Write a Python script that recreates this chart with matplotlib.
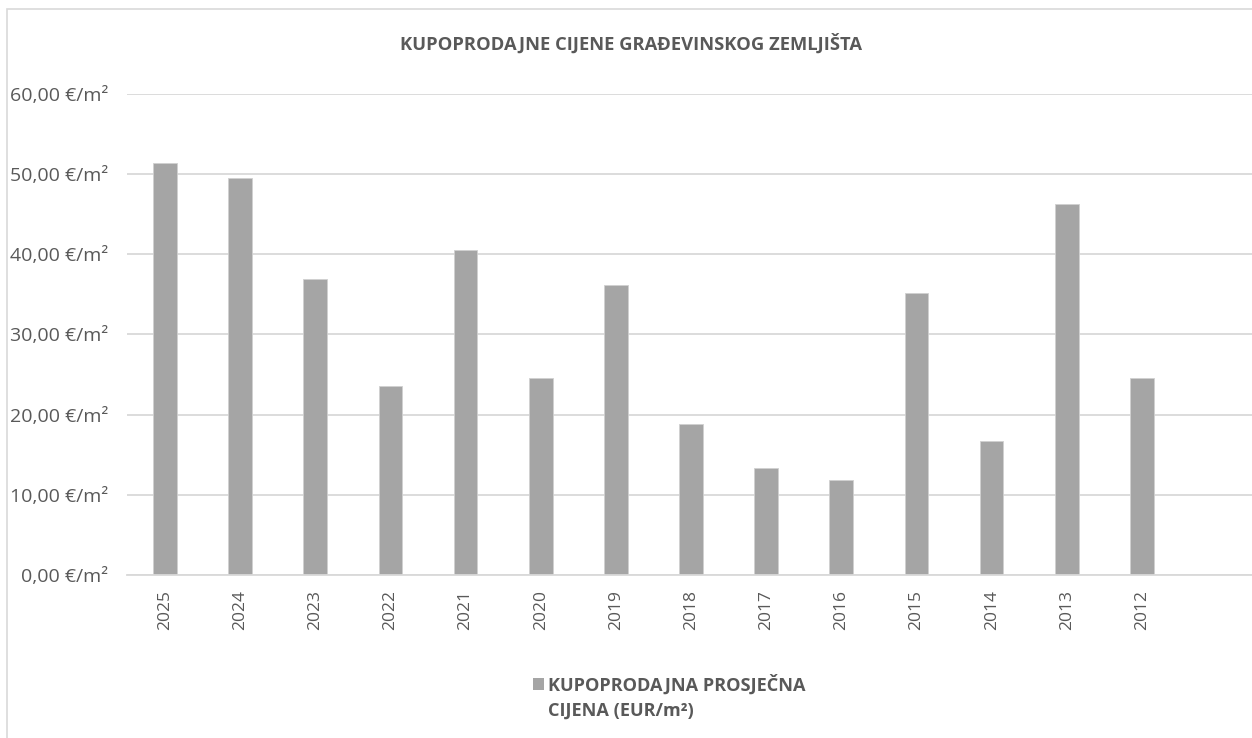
import matplotlib
matplotlib.use("Agg")
import matplotlib.pyplot as plt
from matplotlib.patches import Rectangle
from matplotlib.legend_handler import HandlerPatch
from matplotlib.ticker import FuncFormatter, MultipleLocator

years = ["2025", "2024", "2023", "2022", "2021", "2020", "2019", "2018",
         "2017", "2016", "2015", "2014", "2013", "2012"]
prices = [51.4, 49.5, 36.9, 23.5, 40.5, 24.6, 36.1, 18.8,
          13.3, 11.9, 35.2, 16.7, 46.3, 24.6]
title = "KUPOPRODAJNE CIJENE GRAĐEVINSKOG ZEMLJIŠTA"
series_label = "KUPOPRODAJNA PROSJEČNA\nCIJENA (EUR/m²)"

plt.rcParams['font.family'] = ['Open Sans', 'DejaVu Sans']
TXT = "#595959"
GRID = "#D9D9D9"
BAR = "#A5A5A5"

W, H = 1252, 738
fig = plt.figure(figsize=(W / 100, H / 100), dpi=100)
fig.patch.set_facecolor("white")

left = 127.4 / W
bottom = 1 - 575 / H
height = (575 - 93.7) / H
cat_w = 75.15
width = 15 * cat_w / W
ax = fig.add_axes([left, bottom, width, height])

x = list(range(len(years)))
bars = ax.bar(x, prices, width=0.315, color=BAR, edgecolor="#D0D0D0",
              linewidth=0.6, zorder=3, label=series_label)

ax.set_xlim(-0.5, 14.5)
ax.set_ylim(0, 60)
ax.yaxis.set_major_locator(MultipleLocator(10))
ax.yaxis.set_major_formatter(FuncFormatter(
    lambda v, p: f"{v:.2f}".replace(".", ",") + " €/m²"))
ax.grid(axis="y", color=GRID, linewidth=1.3, zorder=0)
for s in ["top", "right", "left"]:
    ax.spines[s].set_visible(False)
ax.spines["bottom"].set_color(GRID)
ax.spines["bottom"].set_linewidth(1.3)
ax.spines["bottom"].set_zorder(4)

ax.set_xticks(x)
ax.set_xticklabels(years, rotation=90, fontsize=12.5, color=TXT)
ax.tick_params(axis="x", length=0, pad=11)
ax.tick_params(axis="y", length=0, pad=14, labelsize=14, labelcolor=TXT)

fig.text(631 / W, 1 - 44 / H, title, ha="center", va="center",
         fontsize=13.2, fontweight="bold", color=TXT)


def top_square(legend, orig_handle, xdescent, ydescent, width, height, fontsize):
    return Rectangle((-xdescent, -ydescent + 0.75 * fontsize), width, height)


leg = fig.legend(handles=[bars.patches[0]], labels=[series_label],
                 loc="upper left", bbox_to_anchor=(533 / W, 1 - 674 / H),
                 frameon=False, prop={"weight": "bold", "size": 13.1},
                 labelcolor=TXT, handlelength=0.62, handleheight=0.62,
                 handletextpad=0.22, borderpad=0, borderaxespad=0,
                 handler_map={Rectangle: HandlerPatch(patch_func=top_square)})
for t in leg.get_texts():
    t.set_linespacing(1.55)
for p in leg.get_patches():
    p.set_edgecolor("none")

fig.add_artist(Rectangle((7 / W, -0.1), 2, 1.1 - 9 / H,
                         transform=fig.transFigure, fill=False,
                         edgecolor=GRID, linewidth=1.2))

fig.savefig("out.png", dpi=100)
